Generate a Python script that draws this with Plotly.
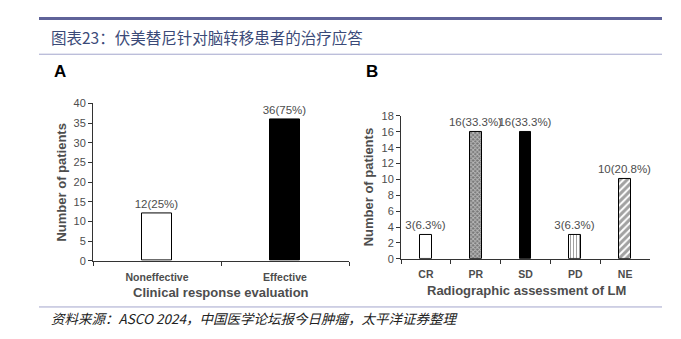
import plotly.graph_objects as go

# ---- data ----
a_categories = ["Noneffective", "Effective"]
a_values = [12, 36]
a_labels = ["12(25%)", "36(75%)"]

b_categories = ["CR", "PR", "SD", "PD", "NE"]
b_values = [3, 16, 16, 3, 10]
b_labels = ["3(6.3%)", "16(33.3%)", "16(33.3%)", "3(6.3%)", "10(20.8%)"]

title_text = "图表23：伏美替尼针对脑转移患者的治疗应答"
source_text = "<i>资料来源：ASCO 2024，中国医学论坛报今日肿瘤，太平洋证券整理</i>"

W, H = 681, 339
def px(x):
    return x / W
def py(y):
    return (H - y) / H

FONT = "Liberation Sans, Arial, sans-serif"
CJK = "Noto Sans CJK SC"
GRAY = "#4d4d4d"

fig = go.Figure()

fig.add_trace(go.Bar(
    x=a_categories, y=a_values, text=a_labels, xaxis="x", yaxis="y",
    width=0.24, textposition="outside", cliponaxis=False, constraintext="none",
    textfont=dict(family=FONT, size=11.5, color=GRAY),
    marker=dict(color=["white", "black"], line=dict(color="black", width=1)),
    showlegend=False,
))

fig.add_trace(go.Bar(
    x=b_categories, y=b_values, text=b_labels, xaxis="x2", yaxis="y2",
    width=0.24, textposition="outside", cliponaxis=False, constraintext="none",
    textfont=dict(family=FONT, size=11.5, color=GRAY),
    marker=dict(
        color=["white", "#777777", "black", "white", "white"],
        line=dict(color="black", width=1),
        pattern=dict(
            shape=["", "x", "", "|", "/"],
            fgcolor=["black", "#222222", "black", "black", "black"],
            size=[4, 3, 4, 3, 5],
            solidity=[0.3, 0.5, 0.3, 0.35, 0.6],
        ),
    ),
    showlegend=False,
))

axis_common = dict(
    showline=True, linecolor="#333333", linewidth=1,
    ticks="outside", ticklen=4, tickcolor="#333333",
    showgrid=False, zeroline=False, fixedrange=True,
)

fig.update_layout(
    width=W, height=H,
    margin=dict(l=0, r=0, t=0, b=0),
    paper_bgcolor="white", plot_bgcolor="white",
    bargap=0,
    xaxis=dict(axis_common, domain=[px(93), px(349)], anchor="y",
               tickson="boundaries", range=[-0.5, 1.5], ticklabelstandoff=7,
               tickfont=dict(family=FONT, size=10.5, color=GRAY, weight="bold")),
    yaxis=dict(axis_common, domain=[py(264), py(101)], anchor="x",
               range=[0, 40], dtick=5,
               tickfont=dict(family=FONT, size=11, color=GRAY)),
    xaxis2=dict(axis_common, domain=[px(401), px(650)], anchor="y2",
                tickson="boundaries", range=[-0.5, 4.5], ticklabelstandoff=6,
                tickfont=dict(family=FONT, size=10.5, color=GRAY, weight="bold")),
    yaxis2=dict(axis_common, domain=[py(262), py(114)], anchor="x2",
                range=[0, 18], dtick=2,
                tickfont=dict(family=FONT, size=11, color=GRAY)),
)

shapes = [
    dict(type="line", xref="paper", yref="paper", x0=px(39), x1=px(662),
         y0=py(13), y1=py(13), line=dict(color="#5f6399", width=3)),
    dict(type="line", xref="paper", yref="paper", x0=px(39), x1=px(662),
         y0=py(50), y1=py(50), line=dict(color="#a3a5cc", width=1)),
    dict(type="line", xref="paper", yref="paper", x0=px(39), x1=px(662),
         y0=py(312), y1=py(312), line=dict(color="#a3a5cc", width=1)),
]
fig.update_layout(shapes=shapes)

ann = [
    dict(text=title_text, x=px(49), y=py(32), xanchor="left", yanchor="middle",
         font=dict(family=CJK, size=15.5, color="#3b4a78")),
    dict(text=source_text, x=px(49), y=py(323), xanchor="left", yanchor="middle",
         font=dict(family=CJK, size=13.5, color="#222222")),
    dict(text="<b>A</b>", x=px(60), y=py(68), xanchor="center", yanchor="middle",
         font=dict(family=FONT, size=17, color="black")),
    dict(text="<b>B</b>", x=px(372), y=py(68), xanchor="center", yanchor="middle",
         font=dict(family=FONT, size=17, color="black")),
    dict(text="<b>Clinical response evaluation</b>", x=px(221), y=py(297.5),
         xanchor="center", yanchor="middle",
         font=dict(family=FONT, size=13, color=GRAY)),
    dict(text="<b>Number of patients</b>", x=px(62), y=py(183), textangle=-90,
         xanchor="center", yanchor="middle",
         font=dict(family=FONT, size=13, color=GRAY)),
    dict(text="<b>Radiographic assessment of LM</b>", x=px(526), y=py(294.5),
         xanchor="center", yanchor="middle",
         font=dict(family=FONT, size=13, color=GRAY)),
    dict(text="<b>Number of patients</b>", x=px(368), y=py(188), textangle=-90,
         xanchor="center", yanchor="middle",
         font=dict(family=FONT, size=13, color=GRAY)),
]
for a in ann:
    a.update(xref="paper", yref="paper", showarrow=False)
fig.update_layout(annotations=ann)

fig.write_html("out.html")
